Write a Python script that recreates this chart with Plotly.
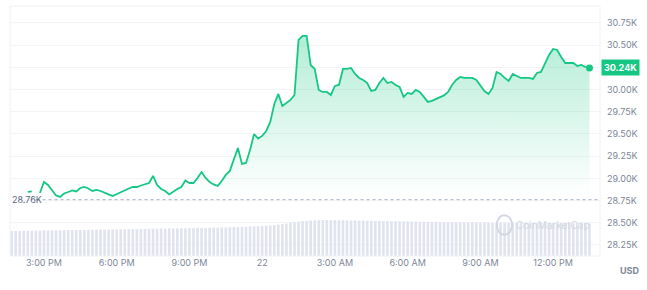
import plotly.graph_objects as go
import pandas as pd

# ---- data ----
PRICE_START = "2023-06-21 14:20"   # first price sample, 10-minute steps
PRICE_STEP_MIN = 10
PRICES = [
    28847, 28853, None, 28836, 28960, 28926, 28870, 28808, 28791, 28830,
    28847, 28864, 28853, 28892, 28903, 28886, 28858, 28870, 28858, 28836,
    28819, 28802, 28825, 28847, 28870, 28886, 28903, 28903, 28920, 28937,
    28948, 29027, 28926, 28881, 28858, 28819, 28853, 28881, 28903, 28977,
    28948, 28948, 29005, 29072, 29005, 28960, 28932, 28915, 28971, 29039,
    29084, 29207, 29342, 29162, 29174, 29320, 29500, 29449, 29478, 29534,
    29635, 29838, 29951, 29815, 29849, 29883, 29939, 30559, 30604, 30604,
    30277, 30232, 29996, 29973, 29973, 29939, 30041, 30052, 30232, 30232,
    30243, 30176, 30131, 30108, 30074, 29984, 29996, 30074, 30131, 30074,
    30086, 30052, 30029, 29917, 29962, 29951, 29996, 29973, 29917, 29861,
    29872, 29894, 29917, 29934, 29973, 30052, 30108, 30142, 30131, 30131,
    30131, 30108, 30041, 29984, 29951, 30018, 30198, 30176, 30131, 30097,
    30176, 30153, 30131, 30131, 30131, 30120, 30187, 30198, 30288, 30390,
    30457, 30446, 30367, 30299, 30299, 30299, 30266, 30277, 30254, 30243,
]

VOLUME_START = "2023-06-21 13:40"  # volume bars, 10-minute steps (billions USD)
VOLUME = [
    15.0, 15.1, 15.0, 15.2, 15.1, 15.2,
    15.3, 15.2, 15.4, 15.3, 15.4, 15.5,
    15.4, 15.5, 15.6, 15.5, 15.6, 15.7,
    15.6, 15.8, 15.7, 15.8, 15.9, 15.8,
    15.9, 16.0, 15.9, 16.1, 16.0, 16.1,
    16.2, 16.1, 16.3, 16.2, 16.3, 16.4,
    16.4, 16.5, 16.4, 16.6, 16.5, 16.6,
    16.7, 16.6, 16.8, 16.7, 16.9, 16.8,
    16.9, 17.0, 17.1, 17.0, 17.2, 17.1,
    17.3, 17.4, 17.3, 17.5, 17.6, 17.7,
    17.8, 17.9, 18.1, 18.2, 18.4, 18.6,
    18.9, 19.2, 19.5, 19.9, 20.3, 20.6,
    20.9, 21.1, 21.3, 21.4, 21.5, 21.6,
    21.6, 21.5, 21.6, 21.4, 21.5, 21.4,
    21.3, 21.4, 21.2, 21.3, 21.1, 21.2,
    21.0, 21.1, 20.9, 21.0, 20.8, 20.9,
    20.8, 20.7, 20.8, 20.6, 20.7, 20.5,
    20.6, 20.5, 20.4, 20.5, 20.3, 20.4,
    20.3, 20.4, 20.2, 20.3, 20.2, 20.1,
    20.2, 20.1, 20.0, 20.1, 20.0, 19.9,
    20.0, 19.9, 20.0, 19.8, 19.9, 19.8,
    19.9, 19.8, 19.7, 19.8, 19.7, 19.8,
    19.7, 19.8, 19.7, 19.6, 19.7, 19.6,
    19.7, 19.6, 19.7, 19.6, 19.7, 19.6,
]

OPEN_PRICE = 28760
OPEN_LABEL = "28.76K"
LAST_LABEL = "30.24K"

# 30.25K grid line is kept but its label is hidden behind the last-price tag
Y_TICKS = [28250, 28500, 28750, 29000, 29250, 29500, 29750, 30000, 30250, 30500, 30750]
Y_TICK_TEXT = ["28.25K", "28.50K", "28.75K", "29.00K", "29.25K", "29.50K",
               "29.75K", "30.00K", "", "30.50K", "30.75K"]

X_TICKS = ["2023-06-21 15:00", "2023-06-21 18:00", "2023-06-21 21:00", "2023-06-22 00:00",
           "2023-06-22 03:00", "2023-06-22 06:00", "2023-06-22 09:00", "2023-06-22 12:00"]
X_TICK_TEXT = ["3:00 PM", "6:00 PM", "9:00 PM", "22", "3:00 AM", "6:00 AM", "9:00 AM", "12:00 PM"]

# ---- style ----
GREEN = "#16c784"
GRAY = "#7d8799"
FONT = "Inter"

t_price = pd.date_range(PRICE_START, periods=len(PRICES), freq=f"{PRICE_STEP_MIN}min")
t_vol = pd.date_range(VOLUME_START, periods=len(VOLUME), freq="10min")

fig = go.Figure()

fig.add_trace(go.Bar(
    x=t_vol, y=VOLUME, yaxis="y2",
    marker=dict(color="#e1e4ee", line=dict(width=0)),
    hoverinfo="skip",
))

fig.add_trace(go.Scatter(
    x=t_price, y=PRICES, mode="lines",
    line=dict(color=GREEN, width=1.8),
    connectgaps=False,
    fill="tozeroy",
    fillgradient=dict(
        type="vertical",
        start=28800, stop=30650,
        colorscale=[[0, "rgba(22,199,132,0)"], [1, "rgba(22,199,132,0.33)"]],
    ),
))

# last price dot
fig.add_trace(go.Scatter(
    x=[t_price[-1]], y=[PRICES[-1]], mode="markers",
    marker=dict(color=GREEN, size=7),
))

# opening price reference line
fig.add_shape(type="line", xref="paper", yref="y", x0=0.045, x1=1,
              y0=OPEN_PRICE, y1=OPEN_PRICE,
              line=dict(color="#a6b0c3", width=1, dash="dot"))
fig.add_annotation(xref="paper", yref="y", x=0, y=OPEN_PRICE, text=OPEN_LABEL,
                   showarrow=False, xanchor="left", yanchor="middle",
                   font=dict(family=FONT, size=9, color="#58667e"))

# last price label
fig.add_annotation(xref="paper", yref="y", x=1, y=PRICES[-1], text="<b>" + LAST_LABEL + "</b>",
                   showarrow=False, xanchor="left", yanchor="middle", xshift=1,
                   bgcolor=GREEN, borderpad=2,
                   font=dict(family=FONT, size=9, color="white"))

# currency label
fig.add_annotation(xref="paper", yref="paper", x=1.03, y=-0.056, text="<b>USD</b>",
                   showarrow=False, xanchor="left", yanchor="middle",
                   font=dict(family=FONT, size=9, color="#7d8799"))

# watermark
fig.add_annotation(xref="paper", yref="paper", x=0.855, y=0.124, text="CoinMarketCap",
                   showarrow=False, xanchor="left", yanchor="middle",
                   font=dict(family=FONT, size=10, color="#d3d8e2"))
fig.add_shape(type="circle", xref="paper", yref="paper",
              x0=0.825, x1=0.851, y0=0.085, y1=0.163,
              line=dict(color="#d3d8e2", width=2))

# plot frame
fig.add_shape(type="rect", xref="paper", yref="paper", x0=0, x1=1, y0=0, y1=1,
              line=dict(color="#eff2f5", width=1))

fig.update_layout(
    width=647, height=290,
    margin=dict(l=10, r=47, t=6, b=34),
    paper_bgcolor="white", plot_bgcolor="white",
    showlegend=False,
    bargap=0.35,
    font=dict(family=FONT, size=9, color=GRAY),
    xaxis=dict(
        range=["2023-06-21 13:36", "2023-06-22 13:56"],
        tickvals=X_TICKS, ticktext=X_TICK_TEXT,
        showgrid=False, zeroline=False, showline=False,
        ticks="", tickfont=dict(family=FONT, size=9, color=GRAY),
    ),
    yaxis=dict(
        range=[28126, 30941], side="right",
        tickvals=Y_TICKS, ticktext=Y_TICK_TEXT,
        showgrid=True, gridcolor="#f3f4f7", gridwidth=1,
        zeroline=False, showline=False, ticks="",
        ticklabelstandoff=6,
        tickfont=dict(family=FONT, size=9, color=GRAY),
    ),
    yaxis2=dict(range=[0, 150], overlaying="y", visible=False),
)

fig.write_html("out.html")
